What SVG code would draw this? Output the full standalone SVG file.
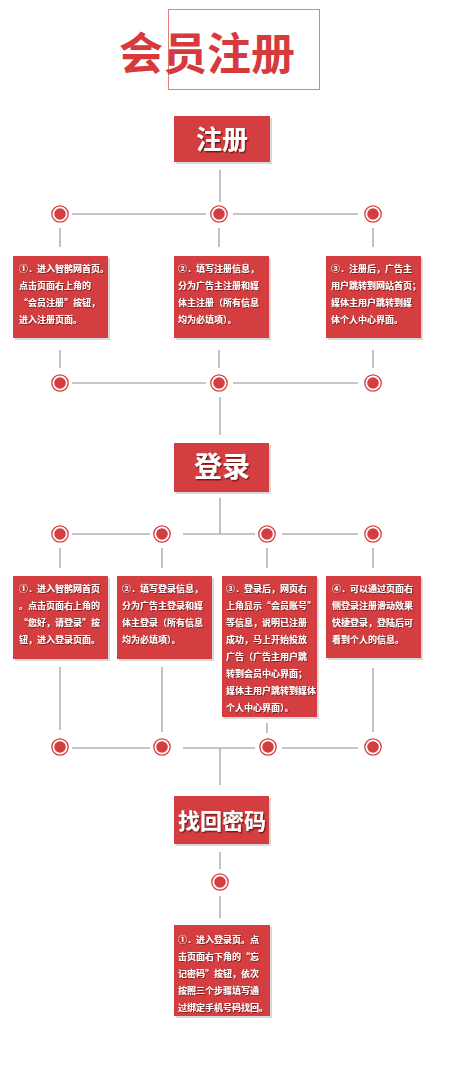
<svg xmlns="http://www.w3.org/2000/svg" width="450" height="1070" viewBox="0 0 450 1070">
<defs>
<style>
.ln{stroke:#b3b3b3;stroke-width:1.6;fill:none}
.box{fill:#d43e40}
.sh{fill:#d9d9d9}
.t{font-family:"Noto Sans CJK SC","Noto Sans",sans-serif;font-weight:700;font-size:9px;fill:#ffffff;filter:url(#ts)}
.h{font-family:"Noto Sans CJK SC","Noto Sans",sans-serif;font-weight:700;fill:#ffffff;text-anchor:middle;filter:url(#ts2)}
.ring{fill:#ffffff;stroke:#d43e40;stroke-width:1.3}
.dot{fill:#d43e40}
</style>
<filter id="ts" x="-10%" y="-30%" width="120%" height="160%">
<feDropShadow dx="0.7" dy="0.8" stdDeviation="0.4" flood-color="#5a0c0c" flood-opacity="0.85"/>
</filter>
<filter id="ts2" x="-10%" y="-30%" width="120%" height="160%">
<feDropShadow dx="1.2" dy="1.4" stdDeviation="0.6" flood-color="#5a0c0c" flood-opacity="0.8"/>
</filter>
<g id="c">
<circle r="8.2" class="ring"/>
<circle r="5.8" class="dot"/>
</g>
</defs>
<rect width="450" height="1070" fill="#ffffff"/>

<g id="title">
<rect x="168.5" y="9.5" width="151" height="80" fill="none" stroke="#e08080" stroke-width="1"/>
<text x="207" y="70" font-family="'Noto Sans CJK SC',sans-serif" font-weight="700" font-size="44" fill="#d63a3c" text-anchor="middle">会员注册</text>
</g>

<g id="connectors">
<line class="ln" x1="220" y1="170" x2="220" y2="202"/>
<line class="ln" x1="72" y1="214" x2="206" y2="214"/>
<line class="ln" x1="233" y1="214" x2="358" y2="214"/>
<line class="ln" x1="60" y1="228" x2="60" y2="247"/>
<line class="ln" x1="219" y1="228" x2="219" y2="247"/>
<line class="ln" x1="373" y1="228" x2="373" y2="247"/>
<line class="ln" x1="60" y1="350" x2="60" y2="368"/>
<line class="ln" x1="219" y1="350" x2="219" y2="368"/>
<line class="ln" x1="373" y1="350" x2="373" y2="368"/>
<line class="ln" x1="72" y1="383" x2="206" y2="383"/>
<line class="ln" x1="233" y1="383" x2="358" y2="383"/>
<line class="ln" x1="220" y1="397" x2="220" y2="435"/>
<line class="ln" x1="220" y1="498" x2="220" y2="534"/>
<line class="ln" x1="72" y1="534" x2="150" y2="534"/>
<line class="ln" x1="183" y1="534" x2="255" y2="534"/>
<line class="ln" x1="282" y1="534" x2="358" y2="534"/>
<line class="ln" x1="60" y1="548" x2="60" y2="568"/>
<line class="ln" x1="162" y1="548" x2="162" y2="568"/>
<line class="ln" x1="267" y1="548" x2="267" y2="568"/>
<line class="ln" x1="373" y1="548" x2="373" y2="568"/>
<line class="ln" x1="60" y1="667" x2="60" y2="730"/>
<line class="ln" x1="162" y1="667" x2="162" y2="732"/>
<line class="ln" x1="267" y1="723" x2="267" y2="733"/>
<line class="ln" x1="373" y1="668" x2="373" y2="732"/>
<line class="ln" x1="72" y1="748" x2="150" y2="748"/>
<line class="ln" x1="183" y1="748" x2="255" y2="748"/>
<line class="ln" x1="282" y1="748" x2="358" y2="748"/>
<line class="ln" x1="220" y1="748" x2="220" y2="785"/>
<line class="ln" x1="220" y1="852" x2="220" y2="869"/>
<line class="ln" x1="220" y1="896" x2="220" y2="918"/>
</g>

<g id="dots">
<use href="#c" x="60" y="214"/><use href="#c" x="219" y="214"/><use href="#c" x="373" y="214"/>
<use href="#c" x="60" y="383"/><use href="#c" x="219" y="383"/><use href="#c" x="373" y="383"/>
<use href="#c" x="60" y="534"/><use href="#c" x="162" y="534"/><use href="#c" x="267" y="534"/><use href="#c" x="373" y="534"/>
<use href="#c" x="60" y="747"/><use href="#c" x="162" y="747"/><use href="#c" x="268" y="747"/><use href="#c" x="373" y="747"/>
<use href="#c" x="220" y="882"/>
</g>

<g id="reg">
<rect class="sh" x="176" y="118" width="96" height="46"/>
<rect class="box" x="174" y="116" width="96" height="46"/>
<text class="h" x="222" y="149" font-size="26">注册</text>
</g>

<g id="reg1">
<rect class="sh" x="15" y="258" width="95" height="82"/>
<rect class="box" x="13" y="256" width="95" height="82"/>
<text class="t" x="19" y="271.5">①．进入智鹊网首页。</text>
<text class="t" x="19" y="288.5">点击页面右上角的</text>
<text class="t" x="19" y="305.5">“会员注册”按钮，</text>
<text class="t" x="19" y="322.5">进入注册页面。</text>
</g>
<g id="reg2">
<rect class="sh" x="176" y="258" width="95" height="82"/>
<rect class="box" x="174" y="256" width="95" height="82"/>
<text class="t" x="178" y="271.5">②．填写注册信息，</text>
<text class="t" x="178" y="288.5">分为广告主注册和媒</text>
<text class="t" x="178" y="305.5">体主注册（所有信息</text>
<text class="t" x="178" y="322.5">均为必填项）。</text>
</g>
<g id="reg3">
<rect class="sh" x="328" y="258" width="95" height="82"/>
<rect class="box" x="326" y="256" width="95" height="82"/>
<text class="t" x="331" y="271.5">③．注册后，广告主</text>
<text class="t" x="331" y="288.5">用户跳转到网站首页；</text>
<text class="t" x="331" y="305.5">媒体主用户跳转到媒</text>
<text class="t" x="331" y="322.5">体个人中心界面。</text>
</g>

<g id="login">
<rect class="sh" x="176" y="445" width="95" height="49"/>
<rect class="box" x="174" y="443" width="95" height="49"/>
<text class="h" x="222" y="477" font-size="28">登录</text>
</g>

<g id="log1">
<rect class="sh" x="15" y="578" width="95" height="83"/>
<rect class="box" x="13" y="576" width="95" height="83"/>
<text class="t" x="19" y="591.5">①．进入智鹊网首页</text>
<text class="t" x="19" y="608.5">。点击页面右上角的</text>
<text class="t" x="19" y="625.5">“您好，请登录”按</text>
<text class="t" x="19" y="642.5">钮，进入登录页面。</text>
</g>
<g id="log2">
<rect class="sh" x="119" y="578" width="95" height="83"/>
<rect class="box" x="117" y="576" width="95" height="83"/>
<text class="t" x="122" y="591.5">②．填写登录信息，</text>
<text class="t" x="122" y="608.5">分为广告主登录和媒</text>
<text class="t" x="122" y="625.5">体主登录（所有信息</text>
<text class="t" x="122" y="642.5">均为必填项）。</text>
</g>
<g id="log3">
<rect class="sh" x="224" y="578" width="95" height="141"/>
<rect class="box" x="222" y="576" width="95" height="141"/>
<text class="t" x="226" y="591.5">③．登录后，网页右</text>
<text class="t" x="226" y="608.5">上角显示“会员账号”</text>
<text class="t" x="226" y="625.5">等信息，说明已注册</text>
<text class="t" x="226" y="642.5">成功，马上开始投放</text>
<text class="t" x="226" y="659.5">广告（广告主用户跳</text>
<text class="t" x="226" y="676.5">转到会员中心界面；</text>
<text class="t" x="226" y="693.5">媒体主用户跳转到媒体</text>
<text class="t" x="226" y="710.5">个人中心界面）。</text>
</g>
<g id="log4">
<rect class="sh" x="328" y="578" width="95" height="82"/>
<rect class="box" x="326" y="576" width="95" height="82"/>
<text class="t" x="332" y="591.5">④．可以通过页面右</text>
<text class="t" x="332" y="608.5">侧登录注册滑动效果</text>
<text class="t" x="332" y="625.5">快捷登录，登陆后可</text>
<text class="t" x="332" y="642.5">看到个人的信息。</text>
</g>

<g id="find">
<rect class="sh" x="176" y="798" width="95" height="48"/>
<rect class="box" x="174" y="796" width="95" height="48"/>
<text class="h" x="222" y="829" font-size="22">找回密码</text>
</g>

<g id="find1">
<rect class="sh" x="176" y="927" width="96" height="91"/>
<rect class="box" x="174" y="925" width="96" height="91"/>
<text class="t" x="178" y="942.5">①．进入登录页。点</text>
<text class="t" x="178" y="959.5">击页面右下角的“忘</text>
<text class="t" x="178" y="976.5">记密码”按钮，依次</text>
<text class="t" x="178" y="993.5">按照三个步骤填写通</text>
<text class="t" x="178" y="1010.5">过绑定手机号码找回。</text>
</g>
</svg>
